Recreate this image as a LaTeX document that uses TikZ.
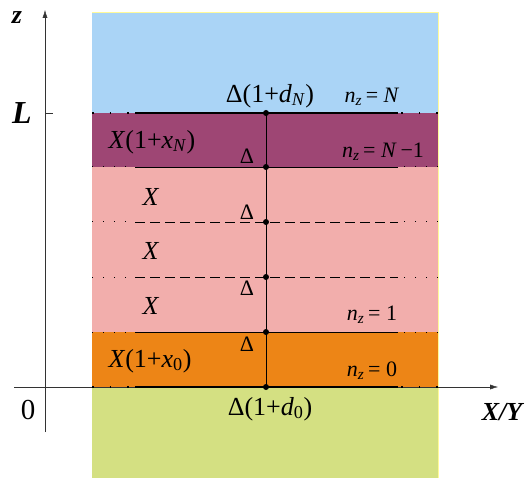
\documentclass[tikz,border=0pt]{standalone}
\usepackage{fontspec}
\setmainfont{Liberation Serif}
\newfontfamily\timesf{Liberation Serif}
\usetikzlibrary{arrows.meta}
\definecolor{vacuum}{RGB}{170,212,246}
\definecolor{caplayer}{RGB}{158,70,116}
\definecolor{barrier}{RGB}{242,174,172}
\definecolor{baselayer}{RGB}{237,133,22}
\definecolor{substrate}{RGB}{212,224,130}
\newcommand{\vi}[1]{\textit{#1}}
\newcommand{\nzeq}[1]{\vi{n}\textsubscript{\vi{z}}\,= #1}
\begin{document}
\begin{tikzpicture}[x=1pt,y=-1pt,
  big/.style={font=\timesf\fontsize{26}{26}\selectfont},
  small/.style={font=\timesf\fontsize{22}{22}\selectfont},
  axlbl/.style={font=\timesf\fontsize{26}{26}\selectfont\bfseries\itshape},
  ends/.style={line width=1.6pt,dash pattern=on 1.6pt off 16pt},
  thinends/.style={line width=1pt,dash pattern=on 1pt off 10pt},
  axis/.style={thin,black!80,-{Latex[length=8pt,width=5pt]}}]
\useasboundingbox (0,0) rectangle (532,478);
\fill[white] (0,0) rectangle (532,478);
% layers of the structure
\fill[vacuum] (92,12) rectangle (438,113);
\fill[caplayer] (92,113) rectangle (438,167);
\fill[barrier] (92,167) rectangle (438,332);
\fill[baselayer] (92,332) rectangle (438,387);
\fill[substrate] (92,387) rectangle (438,478);
\draw[yellow!40,line width=0.4pt] (92,12) -- (438,12) -- (438,478);
% axes
\coordinate (zbot) at (45,432); \coordinate (ztop) at (45,10);
\coordinate (xl) at (14,387); \coordinate (xr) at (498,387);
\coordinate (Lt) at (53,113);
\draw[axis] (zbot) -- (ztop);
\draw[axis] (xl) -- (xr);
\draw[thin,black!80] (45,113) -- (Lt);
\node[axlbl] (zlab) at (17,18) {z};
\node[axlbl,font=\timesf\fontsize{32}{32}\selectfont\bfseries\itshape] (Llab) at (22,113) {L};
\node[font=\timesf\fontsize{29}{29}\selectfont] (olab) at (28,410) {0};
\node[axlbl] (xylab) at (502,412) {X/Y};
% interfaces
\foreach \n/\y in {0/387,1/332,2/277,3/222,4/167,5/113}{
  \coordinate (l\n) at (92,\y); \coordinate (a\n) at (135,\y);
  \coordinate (b\n) at (398,\y); \coordinate (r\n) at (438,\y);
  \coordinate (d\n) at (266,\y);}
\foreach \n in {0,5}{
  \draw[ends] (l\n) -- (a\n); \draw[ends] (r\n) -- (b\n);
  \draw[line width=1.8pt] (a\n) -- (b\n);}
\foreach \n in {1,4}{
  \draw[thinends] (l\n) -- (a\n); \draw[thinends] (r\n) -- (b\n);
  \draw[thin] (a\n) -- (b\n);}
\foreach \n in {2,3}{
  \draw[thinends] (l\n) -- (a\n); \draw[thinends] (r\n) -- (b\n);
  \draw[thin,dash pattern=on 10pt off 5pt] (a\n) -- (b\n);}
\draw[semithick] (d0) -- (d5);
\foreach \n in {0,...,5} \fill (d\n) circle (3pt);
% labels
\node[big] (dN) at (270,96) {Δ(1+\vi{d}\textsubscript{\vi{N}})};
\node[big] (d0lab) at (270,409) {Δ(1+\vi{d}\textsubscript{0})};
\node[big] (xN) at (152,142) {\vi{X}(1+\vi{x}\textsubscript{\vi{N}})};
\node[big] (x0) at (150,361) {\vi{X}(1+\vi{x}\textsubscript{0})};
\foreach \y [count=\i] in {197,251,306} \node[big] (X\i) at (151,\y) {\vi{X}};
\foreach \y [count=\i] in {156,212,288,344} \node[small] (D\i) at (247,\y) {Δ};
\node[small] (nN) at (372,97) {\nzeq{\vi{N}}};
\node[small] (nN1) at (383,152) {\nzeq{\vi{N}\,−1}};
\node[small] (n1) at (372,315) {\nzeq{1}};
\node[small] (n0) at (372,371) {\nzeq{0}};
\end{tikzpicture}
\end{document}
